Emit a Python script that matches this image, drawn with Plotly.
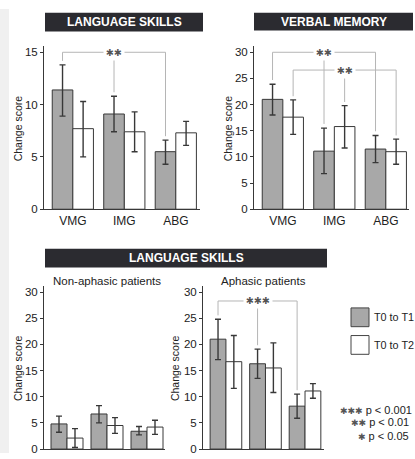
import plotly.graph_objects as go

W, H = 415, 459

categories = ["VMG", "IMG", "ABG"]

# Panel A: language skills (all patients)
lang_t1 = [11.4, 9.1, 5.5]
lang_t1_lo = [8.9, 7.4, 4.3]
lang_t1_hi = [13.8, 10.8, 6.6]
lang_t2 = [7.7, 7.4, 7.3]
lang_t2_lo = [5.0, 5.5, 6.1]
lang_t2_hi = [10.3, 9.3, 8.4]

# Panel B: verbal memory
mem_t1 = [21.0, 11.1, 11.5]
mem_t1_lo = [18.0, 6.8, 8.9]
mem_t1_hi = [23.9, 15.5, 14.1]
mem_t2 = [17.6, 15.8, 11.0]
mem_t2_lo = [14.3, 11.7, 8.6]
mem_t2_hi = [20.9, 19.8, 13.4]

# Panel C: language skills, non-aphasic
nonaph_t1 = [4.8, 6.7, 3.4]
nonaph_t1_lo = [3.2, 5.0, 2.7]
nonaph_t1_hi = [6.3, 8.3, 4.3]
nonaph_t2 = [2.1, 4.5, 4.2]
nonaph_t2_lo = [0.3, 3.0, 2.8]
nonaph_t2_hi = [3.9, 6.0, 5.5]

# Panel D: language skills, aphasic
aph_t1 = [21.0, 16.3, 8.2]
aph_t1_lo = [17.1, 13.5, 5.9]
aph_t1_hi = [24.8, 19.1, 10.5]
aph_t2 = [16.7, 15.5, 11.1]
aph_t2_lo = [11.6, 10.8, 9.7]
aph_t2_hi = [21.7, 20.3, 12.5]

series_names = ["T0 to T1", "T0 to T2"]
sig_labels = ["✱✱✱ p < 0.001", "✱✱ p < 0.01", "✱ p < 0.05"]

GRAY = "#a8a8a8"
EDGE = "#383838"
DARK = "#2b2b30"
BRK = "#b5b5b5"
FONT = "Liberation Sans Narrow, Arial Narrow, Liberation Sans, Arial, sans-serif"


def px(x):
    return x / W


def py(y):
    return 1 - y / H


fig = go.Figure()

panels = [
    ("", lang_t1, lang_t1_lo, lang_t1_hi, lang_t2, lang_t2_lo, lang_t2_hi,
     (44, 200), (212, 46.6), 15.6, (-0.56, 2.47), [0, 5, 10, 15], True),
    ("2", mem_t1, mem_t1_lo, mem_t1_hi, mem_t2, mem_t2_lo, mem_t2_hi,
     (254, 409), (212, 46.6), 31.2, (-0.56, 2.45), [0, 5, 10, 15, 20, 25, 30], True),
    ("3", nonaph_t1, nonaph_t1_lo, nonaph_t1_hi, nonaph_t2, nonaph_t2_lo, nonaph_t2_hi,
     (44, 165), (455, 289.6), 31.2, (-0.575, 2.45), [0, 5, 10, 15, 20, 25, 30], False),
    ("4", aph_t1, aph_t1_lo, aph_t1_hi, aph_t2, aph_t2_lo, aph_t2_hi,
     (203, 324), (455, 289.6), 31.2, (-0.58, 2.48), [0, 5, 10, 15, 20, 25, 30], False),
]

layout_axes = {}
for (suf, t1, t1lo, t1hi, t2, t2lo, t2hi, xd, yd, ymax, xr, yt, showx) in panels:
    for vals, lo, hi, color, name in [(t1, t1lo, t1hi, GRAY, series_names[0]),
                                      (t2, t2lo, t2hi, "white", series_names[1])]:
        fig.add_trace(go.Bar(
            x=categories, y=vals, name=name, showlegend=False,
            marker=dict(color=color, line=dict(color=EDGE, width=1)),
            error_y=dict(type="data", symmetric=False,
                         array=[h - v for h, v in zip(hi, vals)],
                         arrayminus=[v - l for v, l in zip(vals, lo)],
                         color=EDGE, thickness=1.4, width=3),
            xaxis="x" + suf, yaxis="y" + suf,
        ))
    layout_axes["xaxis" + suf] = dict(
        domain=[px(xd[0]), px(xd[1])], anchor="y" + suf, range=list(xr),
        showline=True, linecolor=EDGE, linewidth=1, ticks="",
        showticklabels=showx, tickfont=dict(size=12, color="#222", family=FONT),
        showgrid=False, zeroline=False, fixedrange=True,
    )
    layout_axes["yaxis" + suf] = dict(
        domain=[py(yd[0]), py(yd[1])], anchor="x" + suf, range=[0, ymax],
        tickvals=yt, showline=True, linecolor=EDGE, linewidth=1,
        ticks="outside", ticklen=3, tickcolor=EDGE,
        tickfont=dict(size=11.5, color="#222", family=FONT),
        showgrid=False, zeroline=False, fixedrange=True,
    )

fig.update_layout(**layout_axes)
fig.update_layout(barmode="group", bargap=0.2, bargroupgap=0)

shapes = []
annotations = []


def note(x, y, text, size, color="#222", xanchor="center", family=FONT, **kw):
    annotations.append(dict(xref="paper", yref="paper", x=px(x), y=py(y), text=text,
                            xanchor=xanchor, yanchor="middle", showarrow=False,
                            font=dict(size=size, color=color, family=family), **kw))


# page gray band at left edge
shapes.append(dict(type="rect", xref="paper", yref="paper", x0=0, x1=px(9), y0=0, y1=py(9),
                   fillcolor="#f0f0f0", line=dict(width=0), layer="below"))

# title boxes
for (x0, x1, y0, y1, text) in [(45, 203, 13, 32, "LANGUAGE SKILLS"),
                               (254, 413, 13, 31, "VERBAL MEMORY"),
                               (45, 327, 252, 271, "LANGUAGE SKILLS")]:
    shapes.append(dict(type="rect", xref="paper", yref="paper", x0=px(x0), x1=px(x1),
                       y0=py(y1), y1=py(y0), fillcolor=DARK, line=dict(width=0)))
    note((x0 + x1) / 2, (y0 + y1) / 2, "<b>" + text + "</b>", 12, color="white")

# subtitles
note(107, 285, "Non-aphasic patients", 11.5)
note(263, 285, "Aphasic patients", 11.5)

# y axis titles
for (x, y) in [(18, 130), (228, 130), (18, 373), (175, 373)]:
    note(x, y, "Change score", 10.5, textangle=-90)


def bracket(suf, level, xs, tops, gap, stars, mid_idx):
    xr = "x" + suf
    yr = "y" + suf
    shapes.append(dict(type="line", xref=xr, yref=yr, x0=xs[0], x1=xs[-1], y0=level, y1=level,
                       line=dict(color=BRK, width=1)))
    for x, t in zip(xs, tops):
        shapes.append(dict(type="line", xref=xr, yref=yr, x0=x, x1=x, y0=level, y1=t + gap,
                           line=dict(color=BRK, width=1)))
    annotations.append(dict(xref=xr, yref=yr, x=xs[mid_idx], y=level, text=stars, showarrow=False,
                            xanchor="center", yanchor="middle",
                            bgcolor="white", borderpad=2,
                            font=dict(size=9.5, color="#555", family="DejaVu Sans")))


idx = list(range(len(categories)))
bracket("", 15, [i - 0.2 for i in idx], lang_t1_hi, 0.38, "✱✱", 1)
bracket("2", 30, [i - 0.2 for i in idx], mem_t1_hi, 0.8, "✱✱", 1)
bracket("2", 26.6, [i + 0.2 for i in idx], mem_t2_hi, 0.7, "✱✱", 1)
bracket("4", 28.3, [i - 0.2 for i in idx], aph_t1_hi, 0.75, "✱✱✱", 1)

# legend
for (y0, y1, color, name) in [(312, 331, GRAY, series_names[0]), (340, 359, "white", series_names[1])]:
    shapes.append(dict(type="rect", xref="paper", yref="paper", x0=px(351), x1=px(369),
                       y0=py(y1), y1=py(y0), fillcolor=color, line=dict(color="#444", width=1)))
    note(372, (y0 + y1) / 2, name, 10.8, xanchor="left")

for (label, xr_, y) in zip(sig_labels, [414, 411, 411], [415, 428, 442]):
    stars, rest = label.split(" ", 1)
    note(xr_, y, "<span style='font-family:DejaVu Sans;font-size:9px;color:#555'>" + stars +
         "</span> " + rest, 11, xanchor="right")

fig.update_layout(
    width=W, height=H, margin=dict(l=0, r=0, t=0, b=0),
    paper_bgcolor="white", plot_bgcolor="white",
    shapes=shapes, annotations=annotations, showlegend=False,
)

fig.write_html("out.html", config={"displayModeBar": False},
               post_script="document.body.style.margin='0';document.body.style.overflow='hidden';")
